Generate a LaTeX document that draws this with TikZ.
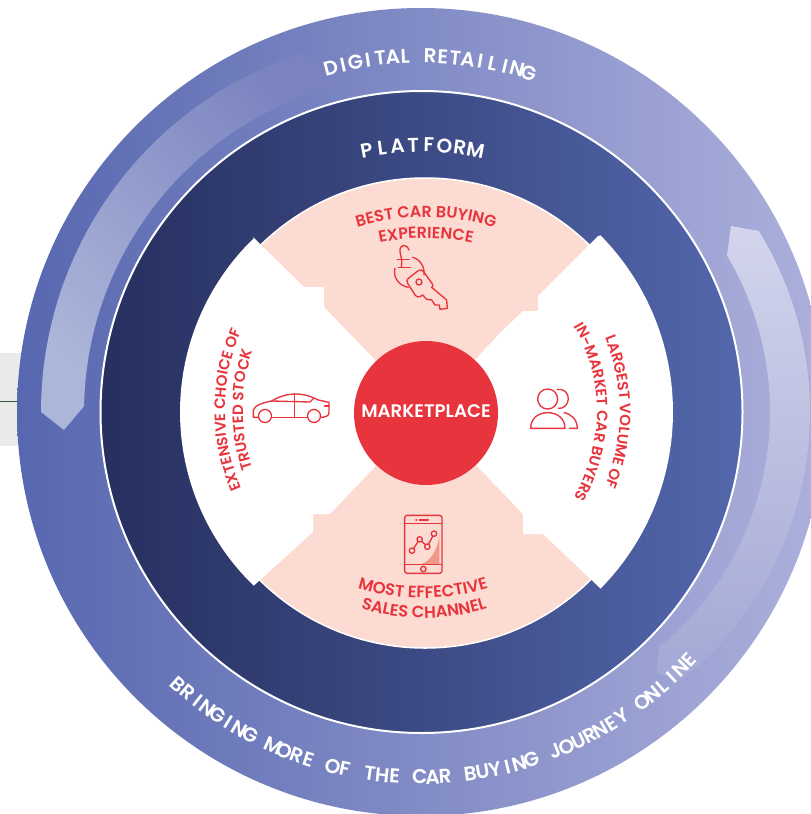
\documentclass[tikz,border=0pt]{standalone}
\usepackage{fontspec}
\setmainfont{Poppins}[UprightFont=* Medium,BoldFont=* SemiBold]
\newfontfamily\ringfont[UprightFont=* SemiBold]{Poppins}
\newfontfamily\redfont[UprightFont=* SemiBold]{Poppins}
\usetikzlibrary{decorations.text}
\definecolor{redc}{HTML}{E8343C}
\definecolor{pinkc}{HTML}{FCDCD2}
\tikzset{
  icon/.style={draw=redc,line width=1.35pt,line cap=round,line join=round},
  ringletter/.style={text=white,inner sep=0pt,anchor=base},
}
\newcommand{\arctxt}[7]{% cx cy R a1 a2 font text
  \path[decorate,decoration={text along path,text align=center,text={|#6|#7}}]
    plot[domain=#4:#5,samples=90,variable=\t] ({#1+#3*cos(\t)},{#2+#3*sin(\t)});}
\newlength\ltrw
\newcommand{\spacedarc}[8]{% cx cy R midangle sign font targetlength letters
  \gdef\ltrsum{0}\gdef\ltrn{0}%
  \foreach \ltr in {#8}{%
    \settowidth{\ltrw}{#6\ltr}%
    \pgfmathsetmacro\tmpa{\ltrsum+\ltrw}\xdef\ltrsum{\tmpa}%
    \pgfmathsetmacro\tmpb{\ltrn+1}\xdef\ltrn{\tmpb}%
  }%
  \pgfmathsetmacro\ltrgap{(#7-\ltrsum)/(\ltrn-1)}%
  \gdef\ltrpos{0}%
  \foreach \ltr in {#8}{%
    \settowidth{\ltrw}{#6\ltr}%
    \pgfmathsetmacro\ltrang{#4+(#5)*(\ltrpos+\ltrw/2-#7/2)/(#3)*180/pi}%
    \pgfmathsetmacro\ltrrot{180+90*(#5)-\ltrang}%
    \node[ringletter,rotate=\ltrrot,font=#6] at ({#1+#3*cos(\ltrang)},{#2+#3*sin(\ltrang)}) {\ltr};%
    \pgfmathsetmacro\tmpa{\ltrpos+\ltrw+\ltrgap}\xdef\ltrpos{\tmpa}%
  }%
}
\newcommand{\rf}{\redfont\fontsize{16}{18}\selectfont\color{redc}}
\newcommand{\rb}{\redfont\fontsize{16.4}{18}\selectfont\color{redc}}
\newcommand{\rs}{\redfont\fontsize{15}{18}\selectfont\color{redc}}
\newcommand{\wf}{\ringfont\fontsize{20}{22}\selectfont}
\begin{document}
\begin{tikzpicture}[x=1pt,y=-1pt]
\useasboundingbox (0,0) rectangle (811,814);
\clip (0,0) rectangle (811,814);
% grey panel
\fill[fill={rgb,255:red,233;green,235;blue,232}] (0,353) rectangle (30,446);
\draw[line width=0.8pt,color={rgb,255:red,50;green,85;blue,70}] (0,401) -- (30,401);
% outer ring
\path[left color={rgb,255:red,87;green,103;blue,176},right color={rgb,255:red,172;green,176;blue,219}] (421,412) circle[radius=404];
% left band
\path[top color={rgb,255:red,172;green,182;blue,217},middle color={rgb,255:red,138;green,149;blue,199},bottom color={rgb,255:red,122;green,131;blue,191},shading angle=135]
  plot[domain=180:252,samples=60,variable=\t] ({421+380*cos(\t)},{412+(380-0.03*(\t-180))*sin(\t)})
  -- (347,80)
  -- plot[domain=257:181,samples=60,variable=\t] ({421+337*cos(\t)},{412+337*sin(\t)})
  -- (64,430) -- cycle;
% right band
\path[top color={rgb,255:red,211;green,213;blue,236},bottom color={rgb,255:red,163;green,168;blue,213}]
  (731,226) -- plot[domain=-28.7:46.7,samples=60,variable=\t] ({428+(382-0.006*\t*\t)*cos(\t)},{412+(382-0.006*\t*\t)*sin(\t)})
  -- (657,673) -- plot[domain=45.5:-27.6,samples=60,variable=\t] ({428+(342-0.006*\t*\t)*cos(\t)},{412+(342-0.006*\t*\t)*sin(\t)}) -- cycle;
% platform disc
\path[left color={rgb,255:red,38;green,47;blue,94},right color={rgb,255:red,83;green,103;blue,172},draw=white,line width=2pt] (421.5,412) circle[radius=321];
% pink disc
\fill[pinkc,draw=white,line width=1.5pt] (425,413) circle[radius=235];
% white panels
\fill[white] (426,413) -- (500,333) -- (523,311) -- (538,311) -- (538,296) -- (598,236)
  -- plot[domain=-44.6:44.6,samples=60,variable=\t] ({421.5+251.5*cos(\t)},{412+251.5*sin(\t)})
  -- (543,534) -- (523,534) -- (523,514) -- cycle;
\fill[white] (426,413) -- (324,307) -- (324,287) -- (304,287) -- (253,237)
  -- plot[domain=226:134,samples=60,variable=\t] ({421.5+241.5*cos(\t)},{412+241.5*sin(\t)})
  -- (313,532) -- (313,514) -- (330,514) -- cycle;
% marketplace
\fill[redc] (426,413) circle[radius=72];
\node[text=white,font=\fontsize{18.2}{20}\selectfont\bfseries] (market) at (426,411) {MARKETPLACE};
% ring and curved texts
\spacedarc{421}{412}{349}{271.5}{1}{\wf}{197}{D,I,G,I,T,A,L,~,R,E,T,A,I,L,I,N,G}
\spacedarc{421}{412}{372}{87.2}{-1}{\wf}{578}{B,R,I,N,G,I,N,G,~,M,O,R,E,~,O,F,~,T,H,E,~,C,A,R,~,B,U,Y,I,N,G,~,J,O,U,R,N,E,Y,~,O,N,L,I,N,E}
\spacedarc{421}{442}{290}{270}{1}{\wf}{107}{P,L,A,T,F,O,R,M}
\arctxt{426}{447}{230}{-130}{-50}{\rf}{BEST CAR BUYING}
\arctxt{426}{468}{230}{-130}{-50}{\rf}{EXPERIENCE}
\arctxt{423}{378}{220}{130}{50}{\rb}{MOST EFFECTIVE}
\arctxt{424}{408}{210}{130}{50}{\rb}{SALES CHANNEL}
\arctxt{421}{410}{196}{135}{225}{\rs}{EXTENSIVE CHOICE OF}
\arctxt{421}{410}{178}{130}{230}{\rs}{TRUSTED STOCK}
\arctxt{426}{412}{194}{-45}{45}{\rs}{LARGEST VOLUME OF}
\arctxt{426}{412}{171}{-55}{55}{\rs}{IN-MARKET CAR BUYERS}
% key icon
\begin{scope}[shift={(340,200)},x=0.3333pt,y=-0.3333pt]
  \draw[icon] (207,150) .. controls (200,130) and (178,132) .. (180,155) .. controls (182,170) and (188,180) .. (184,200);
  \draw[icon] (172,178) -- (208,178);
  \draw[icon] (175,203) -- (212,203);
  \draw[icon] (218,172) .. controls (240,178) and (255,200) .. (252,225);
  \draw[icon] (165,205) .. controls (158,232) and (178,258) .. (205,262);
  \draw[icon] (235,212) .. controls (240,208) and (246,210) .. (250,214) -- (276,250) .. controls (280,256) and (280,262) .. (275,262)
    -- (320,300) -- (322,325) -- (300,328) -- (298,315) -- (285,315) -- (275,300) -- (260,298) -- (248,285) -- (240,290)
    .. controls (235,293) and (230,290) .. (226,286) -- (203,250) .. controls (199,245) and (200,238) .. (205,235) -- cycle;
  \draw[icon] (237,246) circle[radius=3pt];
\end{scope}
% phone icon
\begin{scope}[shift={(380,500)},x=0.3333pt,y=-0.3333pt]
  \fill[fill={rgb,255:red,240;green,152;blue,135}] (178,100) .. controls (175,150) and (150,185) .. (122,193) -- (178,193) -- cycle;
  \draw[icon,rounded corners=2.5pt] (74,46) rectangle (186,220);
  \draw[icon] (74,70) -- (186,70);
  \draw[icon] (74,193) -- (186,193);
  \draw[icon] (118,60) -- (145,60);
  \draw[icon] (108,60) -- (110,60);
  \draw[icon] (130,207) circle[radius=2.7pt];
  \draw[icon] (96,152) circle[radius=2.7pt];
  \draw[icon] (119,118) circle[radius=2.7pt];
  \draw[icon] (142,140) circle[radius=2.7pt];
  \draw[icon] (162,101) circle[radius=2.7pt];
  \draw[icon] (101,145) -- (114,125);
  \draw[icon] (125,124) -- (136,134);
  \draw[icon] (146,132) -- (158,109);
\end{scope}
% car icon
\begin{scope}[shift={(230,370)},x=0.3333pt,y=-0.3333pt]
  \draw[icon] (85,142) -- (70,142) -- (70,120) .. controls (75,105) and (100,98) .. (125,93)
    .. controls (150,78) and (175,72) .. (195,72) .. controls (225,72) and (245,80) .. (265,90) -- (297,97) -- (297,128) .. controls (297,138) and (285,142) .. (273,142);
  \draw[icon] (125,142) -- (232,142);
  \draw[icon] (125,93) -- (240,96) -- (250,86);
  \draw[icon] (193,72) -- (193,142);
  \draw[icon] (284,108) -- (297,108);
  \draw[icon] (105,138) circle[radius=6.5pt];
  \draw[icon] (252,138) circle[radius=6.5pt];
\end{scope}
% people icon
\begin{scope}[shift={(500,370)},x=0.3333pt,y=-0.3333pt]
  \draw[icon] (143,87) circle[radius=10pt];
  \draw[icon] (172,58) .. controls (192,55) and (206,70) .. (205,87) .. controls (204,105) and (190,117) .. (175,115);
  \draw[icon] (92,175) .. controls (92,145) and (115,128) .. (143,128) .. controls (172,128) and (195,145) .. (195,175) -- cycle;
  \draw[icon] (192,128) .. controls (215,132) and (232,150) .. (232,175) -- (208,175);
\end{scope}
\end{tikzpicture}
\end{document}
